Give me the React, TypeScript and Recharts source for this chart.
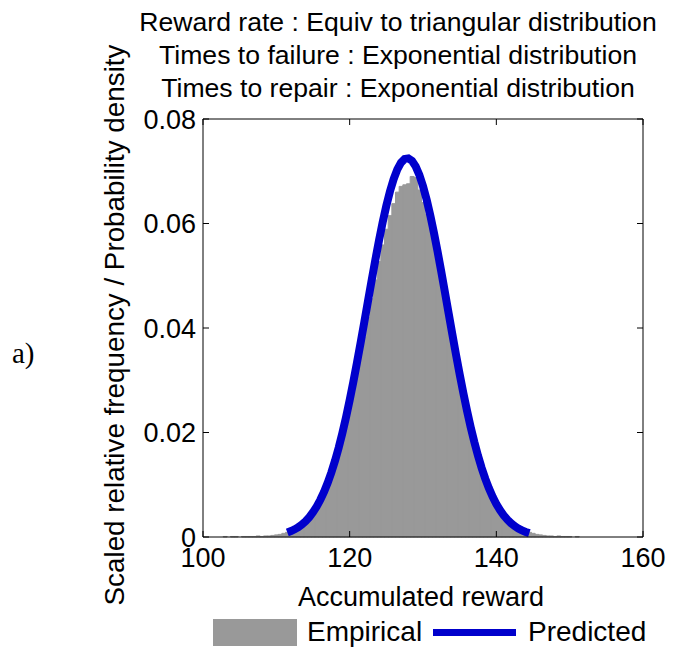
import { ComposedChart, Bar, Line, XAxis, YAxis } from 'recharts';

// histogram bins (centres), width 0.5
const binStart = 103;
const binWidth = 0.5;
const empirical = [
  0.0001, 0, 0.0001, 0.0001, 0, 0.0001, 0.0001, 0.0001, 0.0001, 0.0002,
  0.0001, 0.0002, 0.0002, 0.0003, 0.0004, 0.0005, 0.0007, 0.0009, 0.0011, 0.0015,
  0.0019, 0.0024, 0.003, 0.0037, 0.0046, 0.0056, 0.0068, 0.0083, 0.0099, 0.0117,
  0.0138, 0.0161, 0.0187, 0.0215, 0.0245, 0.0277, 0.0311, 0.0347, 0.0383, 0.042,
  0.0456, 0.0492, 0.0527, 0.0559, 0.0589, 0.0615, 0.0638, 0.066, 0.0671, 0.0674,
  0.0676, 0.069, 0.0688, 0.0664, 0.064, 0.0617, 0.059, 0.056, 0.0527, 0.0492,
  0.0456, 0.042, 0.0383, 0.0347, 0.0311, 0.0277, 0.0245, 0.0215, 0.0187, 0.0161,
  0.0138, 0.0117, 0.0099, 0.0083, 0.0068, 0.0056, 0.0046, 0.0037, 0.003, 0.0024,
  0.0019, 0.0015, 0.0011, 0.0009, 0.0007, 0.0005, 0.0004, 0.0003, 0.0002, 0.0002,
  0.0001, 0.0002, 0.0001, 0.0001, 0.0001, 0, 0.0001,
];

// predicted density, from 111.5 to 144.5 on the same 0.5 grid
const predStart = 111.5;
const predicted = [
  0.00087, 0.00114, 0.00147, 0.00189, 0.00241, 0.00304, 0.00381, 0.00473, 0.00583, 0.00712,
  0.00863, 0.01036, 0.01234, 0.01458, 0.01709, 0.01987, 0.0229, 0.02618, 0.02969, 0.03338,
  0.03723, 0.04118, 0.04517, 0.04915, 0.05303, 0.05675, 0.06023, 0.06339, 0.06618, 0.06851,
  0.07035, 0.07164, 0.07236, 0.07247, 0.072, 0.07093, 0.06931, 0.06716, 0.06455, 0.06153,
  0.05817, 0.05454, 0.05071, 0.04677, 0.04278, 0.0388, 0.0349, 0.03114, 0.02756, 0.02419,
  0.02105, 0.01817, 0.01556, 0.01321, 0.01112, 0.00929, 0.00769, 0.00632, 0.00515, 0.00416,
  0.00333, 0.00265, 0.00209, 0.00163, 0.00127, 0.00097, 0.00074,
];

const xTicks = [100, 120, 140, 160];
const yTicks = [0, 0.02, 0.04, 0.06, 0.08];
const titleLines = [
  'Reward rate : Equiv to triangular distribution',
  'Times to failure : Exponential distribution',
  'Times to repair : Exponential distribution',
];

const chartData = empirical.map((emp, i) => {
  const x = binStart + i * binWidth;
  const j = Math.round((x - predStart) / binWidth);
  return { x, emp, pred: j >= 0 && j < predicted.length ? predicted[j] : undefined };
});

const font = '"Liberation Sans", Arial, sans-serif';
const gray = '#999999';
const blue = '#0000cc';
const tickStyle = { fontSize: 27, fontFamily: font, fill: '#000' };

export default function App() {
  return (
    <div style={{ position: 'relative', width: 676, height: 639, fontFamily: font, color: '#000' }}>
      <ComposedChart
        width={676}
        height={631}
        data={chartData}
        margin={{ top: 110, right: 40, bottom: 0, left: 0 }}
        barCategoryGap={0}
        barGap={0}
        style={{ position: 'absolute', left: 0, top: 0 }}
      >
        <XAxis
          dataKey="x"
          type="number"
          domain={[100, 160]}
          ticks={xTicks}
          allowDataOverflow
          height={102}
          tickSize={-6}
          tickMargin={17}
          stroke="#000"
          tick={tickStyle}
        />
        <XAxis
          xAxisId="top"
          dataKey="x"
          orientation="top"
          type="number"
          domain={[100, 160]}
          ticks={xTicks}
          allowDataOverflow
          height={1}
          tickSize={-6}
          stroke="#000"
          tickFormatter={() => ''}
        />
        <YAxis
          type="number"
          domain={[0, 0.08]}
          ticks={yTicks}
          width={195}
          tickSize={-6}
          tickMargin={13}
          stroke="#000"
          tick={tickStyle}
          tickFormatter={(v: number) => (v === 0 ? '0' : v.toFixed(2))}
        />
        <YAxis
          yAxisId="right"
          orientation="right"
          type="number"
          domain={[0, 0.08]}
          ticks={yTicks}
          width={1}
          tickSize={-6}
          stroke="#000"
          tickFormatter={() => ''}
        />
        <Bar dataKey="emp" fill={gray} stroke={gray} strokeWidth={1} isAnimationActive={false} />
        <Line
          dataKey="pred"
          xAxisId="top"
          yAxisId="right"
          type="linear"
          stroke={blue}
          strokeWidth={8}
          dot={false}
          connectNulls
          isAnimationActive={false}
        />
      </ComposedChart>

      {titleLines.map((t, i) => (
        <div
          key={t}
          style={{
            position: 'absolute',
            left: 90,
            width: 600,
            top: i * 33 - 2,
            textAlign: 'center',
            fontSize: 26.6,
            lineHeight: '32px',
            whiteSpace: 'nowrap',
          }}
        >
          {t}
        </div>
      ))}

      <div
        style={{
          position: 'absolute',
          left: 107 - 300,
          top: 317 - 16,
          width: 600,
          textAlign: 'center',
          fontSize: 27.8,
          lineHeight: '32px',
          whiteSpace: 'nowrap',
          transform: 'rotate(-90deg)',
        }}
      >
        Scaled relative frequency / Probability density
      </div>

      <div
        style={{
          position: 'absolute',
          left: 4,
          top: 345 - 16,
          fontSize: 29,
          lineHeight: '32px',
          fontFamily: '"Liberation Serif", serif',
        }}
      >
        a)
      </div>

      <div
        style={{
          position: 'absolute',
          left: 413 - 200,
          width: 400,
          top: 589 - 16,
          textAlign: 'center',
          fontSize: 27,
          lineHeight: '32px',
        }}
      >
        Accumulated reward
      </div>

      <div style={{ position: 'absolute', left: 205, top: 611, width: 84, height: 27, background: gray }} />
      <div style={{ position: 'absolute', left: 299, top: 608, fontSize: 28, lineHeight: '32px' }}>Empirical</div>
      <div style={{ position: 'absolute', left: 425, top: 621, width: 83, height: 7, background: blue }} />
      <div style={{ position: 'absolute', left: 520, top: 608, fontSize: 28, lineHeight: '32px' }}>Predicted</div>
    </div>
  );
}
